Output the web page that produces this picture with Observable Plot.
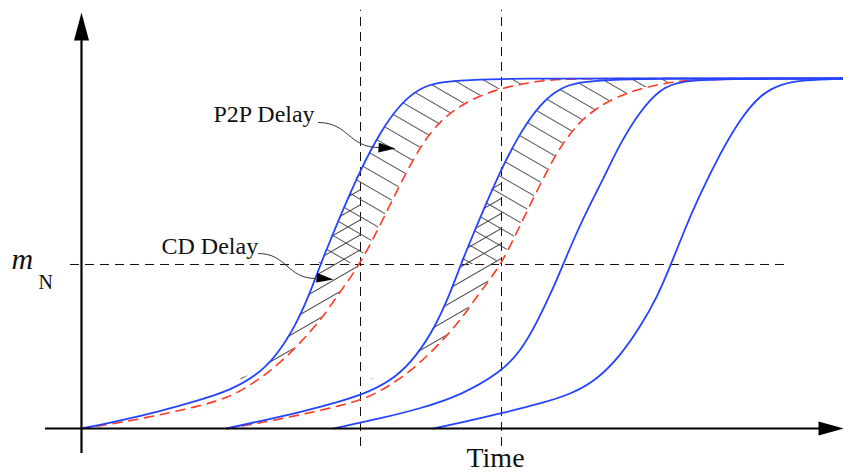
<!DOCTYPE html>
<html><head><meta charset="utf-8">
<script src="https://cdn.jsdelivr.net/npm/d3@7"></script>
<script src="https://cdn.jsdelivr.net/npm/@observablehq/plot@0.6"></script>
<style>body{margin:0;background:#fff} #chart svg{display:block}</style>
</head><body><div id="chart"></div>
<script>
// ---- data (time in arbitrary units, progress in % of plateau) ----
const time1  = [0, 39, 79, 119, 149, 174, 194, 214, 229, 239, 244, 259, 279, 299, 319, 339, 359, 379, 399, 419, 449, 479, 519, 762];
const blue1  = [0, 2.23, 4.97, 8.17, 11.0, 14.94, 20.37, 29.23, 39.09, 46.86, 50.34, 60.86, 74.0, 84.86, 92.86, 97.43, 98.97, 99.43, 99.71, 99.86, 99.94, 100, 100, 100];
const red1   = [0, 1.66, 3.94, 6.46, 9.03, 13.31, 17.6, 23.03, 27.74, 31.17, 33.03, 39.14, 47.14, 58.29, 70.0, 80.86, 88.0, 92.29, 95.14, 97.14, 99.0, 99.86, 100, 100];

const time2  = [145, 179, 219, 259, 289, 314, 334, 354, 369, 379, 384, 399, 420, 439, 459, 479, 499, 519, 539, 559, 589, 619, 762];
const blue2  = [0, 2.14, 4.71, 7.71, 10.57, 14.57, 20.29, 29.14, 38.86, 46.57, 50.14, 60.57, 74.29, 84.71, 92.86, 97.43, 98.97, 99.43, 99.71, 99.86, 99.94, 100, 100];
const red2   = [0, 1.57, 3.94, 6.46, 9.03, 13.31, 17.6, 23.03, 27.74, 31.17, 33.03, 39.14, 46.86, 58.29, 70.0, 80.86, 88.0, 92.29, 95.14, 97.14, 99.0, 99.86, 100];

const time3  = [252, 299, 339, 379, 419, 439, 456, 472, 482, 496, 509, 522, 539, 559, 579, 599, 639, 762];
const blue3  = [0, 2.86, 5.71, 9.43, 16.0, 22.0, 30.57, 40.29, 47.14, 56.57, 64.29, 71.43, 81.71, 90.86, 97.14, 99.29, 99.94, 100];

const time4  = [352, 389, 419, 459, 489, 516, 539, 559, 576, 589, 602, 616, 639, 659, 679, 699, 722, 762];
const blue4  = [0, 2.29, 4.29, 7.14, 9.71, 14.0, 20.86, 29.14, 37.71, 46.57, 56.0, 65.43, 78.86, 88.57, 95.43, 98.43, 99.57, 100];

const mN = 46.86;                 // threshold level m_N
const markTimes = [279, 420];     // dashed time markers
const cdFloor = 14;               // lowest level of the CD-delay hatching

const labelText = ["P2P Delay", "CD Delay"];
const labelX = [132, 80];
const labelY = [87.43, 50.0];
const pointerX = [[237, 297], [177, 234]];
const pointerY = [[87.43, 80.29], [50.0, 42.86]];
const tipX = [314, 252];
const tipY = [80.0, 42.57];
const tipRotate = [93, 96];

// ---- helpers ----
const zip = (xs, ys) => xs.map((x, i) => ({x, y: ys[i]}));
const head = (len, half) => ({draw(ctx) { ctx.moveTo(0, 0); ctx.lineTo(half, len); ctx.lineTo(-half, len); ctx.closePath(); }});

function p2p(ts, b, r) { return ts.map((x, i) => ({x, lo: Math.max(r[i], mN), hi: Math.max(b[i], mN)})); }
function cd(ts, b, r, tEnd) { return ts.map((x, i) => ({x, lo: Math.max(r[i], cdFloor), hi: Math.max(b[i], cdFloor)})).filter(d => d.x <= tEnd); }

const blues = [[time1, blue1], [time2, blue2], [time3, blue3], [time4, blue4]];
const reds = [[time1, red1], [time2, red2]];
const font = "Liberation Serif, Times New Roman, serif";
const BLUE = "#2443ff", RED = "#ff3a22";
const CURVE = "basis";

const marks = [
  // dashed guides
  Plot.ruleX(markTimes, {y1: -5.14, y2: 119.5, stroke: "#111", strokeWidth: 1, strokeDasharray: "9,6"}),
  Plot.ruleY([mN], {x1: -11, x2: 709, stroke: "#111", strokeWidth: 1, strokeDasharray: "9,6"}),
  // hatched delay regions
  Plot.areaY(p2p(time1, blue1, red1), {x: "x", y1: "lo", y2: "hi", fill: "url(#hatchP2P)", curve: CURVE}),
  Plot.areaY(p2p(time2, blue2, red2), {x: "x", y1: "lo", y2: "hi", fill: "url(#hatchP2P)", curve: CURVE}),
  Plot.areaY(cd(time1, blue1, red1, markTimes[0]), {x: "x", y1: "lo", y2: "hi", fill: "url(#hatchCD)", curve: CURVE}),
  Plot.areaY(cd(time2, blue2, red2, markTimes[1]), {x: "x", y1: "lo", y2: "hi", fill: "url(#hatchCD)", curve: CURVE}),
  // red dashed curves
  ...reds.map(([t, v]) => Plot.line(zip(t, v), {x: "x", y: "y", stroke: RED, strokeWidth: 1.6, strokeDasharray: "9,7", curve: CURVE})),
  // blue curves
  ...blues.map(([t, v]) => Plot.line(zip(t, v), {x: "x", y: "y", stroke: BLUE, strokeWidth: 1.8, curve: CURVE})),
  // axes
  Plot.ruleX([0], {y1: -7.14, y2: 111.5, stroke: "#000", strokeWidth: 2.2}),
  Plot.ruleY([0], {x1: -36, x2: 740, stroke: "#000", strokeWidth: 2.2}),
  Plot.dot([0], {x: 0, y: 118.86, symbol: head(28, 7.5), fill: "#000", stroke: "none"}),
  Plot.dot([0], {x: 762, y: 0, symbol: head(25, 7), rotate: 90, fill: "#000", stroke: "none"}),
  // annotation pointers
  ...pointerX.map((xs, i) => Plot.line(zip(xs, pointerY[i]), {x: "x", y: "y", stroke: "#333", strokeWidth: 1, curve: "bump-x"})),
  Plot.dot(tipX, {x: d => d, y: (d, i) => tipY[i], rotate: (d, i) => tipRotate[i], symbol: head(17, 4.8), fill: "#000", stroke: "none"}),
  // labels
  Plot.text(labelText, {x: (d, i) => labelX[i], y: (d, i) => labelY[i], text: d => d, textAnchor: "start", lineAnchor: "bottom", fontSize: 24, fontFamily: font, fill: "#111"}),
  Plot.text(["m"], {x: -70, y: 45.71, text: d => d, textAnchor: "start", lineAnchor: "bottom", fontSize: 30, fontStyle: "italic", fontFamily: font, fill: "#111"}),
  Plot.text(["N"], {x: -43, y: 40.0, text: d => d, textAnchor: "start", lineAnchor: "bottom", fontSize: 20, fontFamily: font, fill: "#111"}),
  Plot.text(["Time"], {x: 414, y: -11.0, text: d => d, textAnchor: "middle", lineAnchor: "bottom", fontSize: 28, fontFamily: font, fill: "#111"})
];

const svg = Plot.plot({
  width: 843, height: 473, margin: 0,
  x: {domain: [-81, 762], axis: null},
  y: {domain: [-12.857, 122.286], axis: null},
  style: {background: "#fff"},
  marks
});

const defs = document.createElementNS("http://www.w3.org/2000/svg", "defs");
defs.innerHTML = `
<pattern id="hatchP2P" patternUnits="userSpaceOnUse" width="30" height="15" patternTransform="rotate(30)">
  <line x1="0" y1="7.5" x2="30" y2="7.5" stroke="#555" stroke-width="1"/>
</pattern>
<pattern id="hatchCD" patternUnits="userSpaceOnUse" width="30" height="13" patternTransform="rotate(-30)">
  <line x1="0" y1="6.5" x2="30" y2="6.5" stroke="#444" stroke-width="1"/>
</pattern>`;
svg.insertBefore(defs, svg.firstChild);
document.getElementById("chart").appendChild(svg);
</script>
</body></html>
